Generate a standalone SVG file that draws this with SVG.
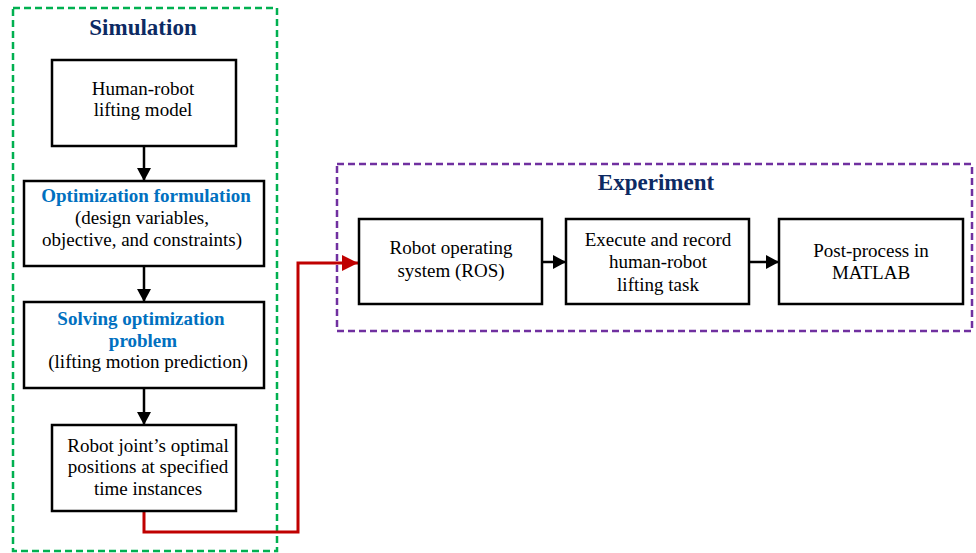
<svg xmlns="http://www.w3.org/2000/svg" width="976" height="553" viewBox="0 0 976 553">
  <style>
    .box { fill: #ffffff; stroke: #000000; stroke-width: 2.5; }
    .txt { font-family: "Liberation Serif", "Times New Roman", serif; font-size: 19px; fill: #000000; text-anchor: middle; }
    .hl { font-family: "Liberation Serif", "Times New Roman", serif; font-size: 19px; font-weight: bold; fill: #0070C0; text-anchor: middle; }
    .title { font-family: "Liberation Serif", "Times New Roman", serif; font-size: 23px; font-weight: bold; fill: #0D2A63; text-anchor: middle; }
    .frame { fill: none; stroke-width: 2.5; stroke-dasharray: 7 4; }
    .arrow { fill: none; stroke: #000000; stroke-width: 2.5; }
    .link { fill: none; stroke: #C00000; stroke-width: 3; }
  </style>
  <defs>
    <marker id="head" markerUnits="userSpaceOnUse" markerWidth="14" markerHeight="14" refX="13" refY="7" orient="auto">
      <path d="M0,0 L13,7 L0,14 Z" fill="#000000"/>
    </marker>
    <marker id="headRed" markerUnits="userSpaceOnUse" markerWidth="17" markerHeight="17" refX="16" refY="8" orient="auto">
      <path d="M0,0 L16,8 L0,16 Z" fill="#C00000"/>
    </marker>
  </defs>

  <rect width="976" height="553" fill="#ffffff"/>

  <!-- group frames -->
  <g id="simulation">
    <rect class="frame" x="13" y="8" width="264" height="543" stroke="#00B050"/>
    <text class="title" x="143" y="35">Simulation</text>
  </g>
  <g id="experiment">
    <rect class="frame" x="337" y="164" width="635" height="167" stroke="#7030A0"/>
    <text class="title" x="656" y="190">Experiment</text>
  </g>

  <!-- connectors -->
  <g id="connectors">
    <line class="arrow" x1="144" y1="146" x2="144" y2="181" marker-end="url(#head)"/>
    <line class="arrow" x1="144" y1="266" x2="144" y2="302" marker-end="url(#head)"/>
    <line class="arrow" x1="144" y1="388" x2="144" y2="425" marker-end="url(#head)"/>
    <line class="arrow" x1="542" y1="262" x2="566" y2="262" marker-end="url(#head)"/>
    <line class="arrow" x1="749" y1="262" x2="779" y2="262" marker-end="url(#head)"/>
    <polyline class="link" points="144,511 144,532 298,532 298,263 358,263" marker-end="url(#headRed)"/>
  </g>

  <!-- simulation steps -->
  <g id="lifting-model">
    <rect class="box" x="52" y="60" width="184" height="86"/>
    <text class="txt" x="143" y="95">Human-robot</text>
    <text class="txt" x="143" y="116">lifting model</text>
  </g>
  <g id="optimization-formulation">
    <rect class="box" x="24" y="181" width="240" height="85"/>
    <text class="hl" x="146" y="202">Optimization formulation</text>
    <text class="txt" x="142" y="224">(design variables,</text>
    <text class="txt" x="142" y="246">objective, and constraints)</text>
  </g>
  <g id="solving-problem">
    <rect class="box" x="24" y="302" width="240" height="86"/>
    <text class="hl" x="141" y="325">Solving optimization</text>
    <text class="hl" x="143" y="347">problem</text>
    <text class="txt" x="148" y="368">(lifting motion prediction)</text>
  </g>
  <g id="joint-positions">
    <rect class="box" x="52" y="425" width="184" height="86"/>
    <text class="txt" x="148" y="452">Robot joint’s optimal</text>
    <text class="txt" x="148" y="473">positions at specified</text>
    <text class="txt" x="148" y="495">time instances</text>
  </g>

  <!-- experiment steps -->
  <g id="ros">
    <rect class="box" x="359" y="219" width="183" height="85"/>
    <text class="txt" x="451" y="254">Robot operating</text>
    <text class="txt" x="451" y="277">system (ROS)</text>
  </g>
  <g id="execute-record">
    <rect class="box" x="566" y="219" width="183" height="85"/>
    <text class="txt" x="658" y="246">Execute and record</text>
    <text class="txt" x="658" y="268">human-robot</text>
    <text class="txt" x="658" y="291">lifting task</text>
  </g>
  <g id="post-process">
    <rect class="box" x="779" y="219" width="184" height="85"/>
    <text class="txt" x="871" y="257">Post-process in</text>
    <text class="txt" x="871" y="279">MATLAB</text>
  </g>
</svg>
